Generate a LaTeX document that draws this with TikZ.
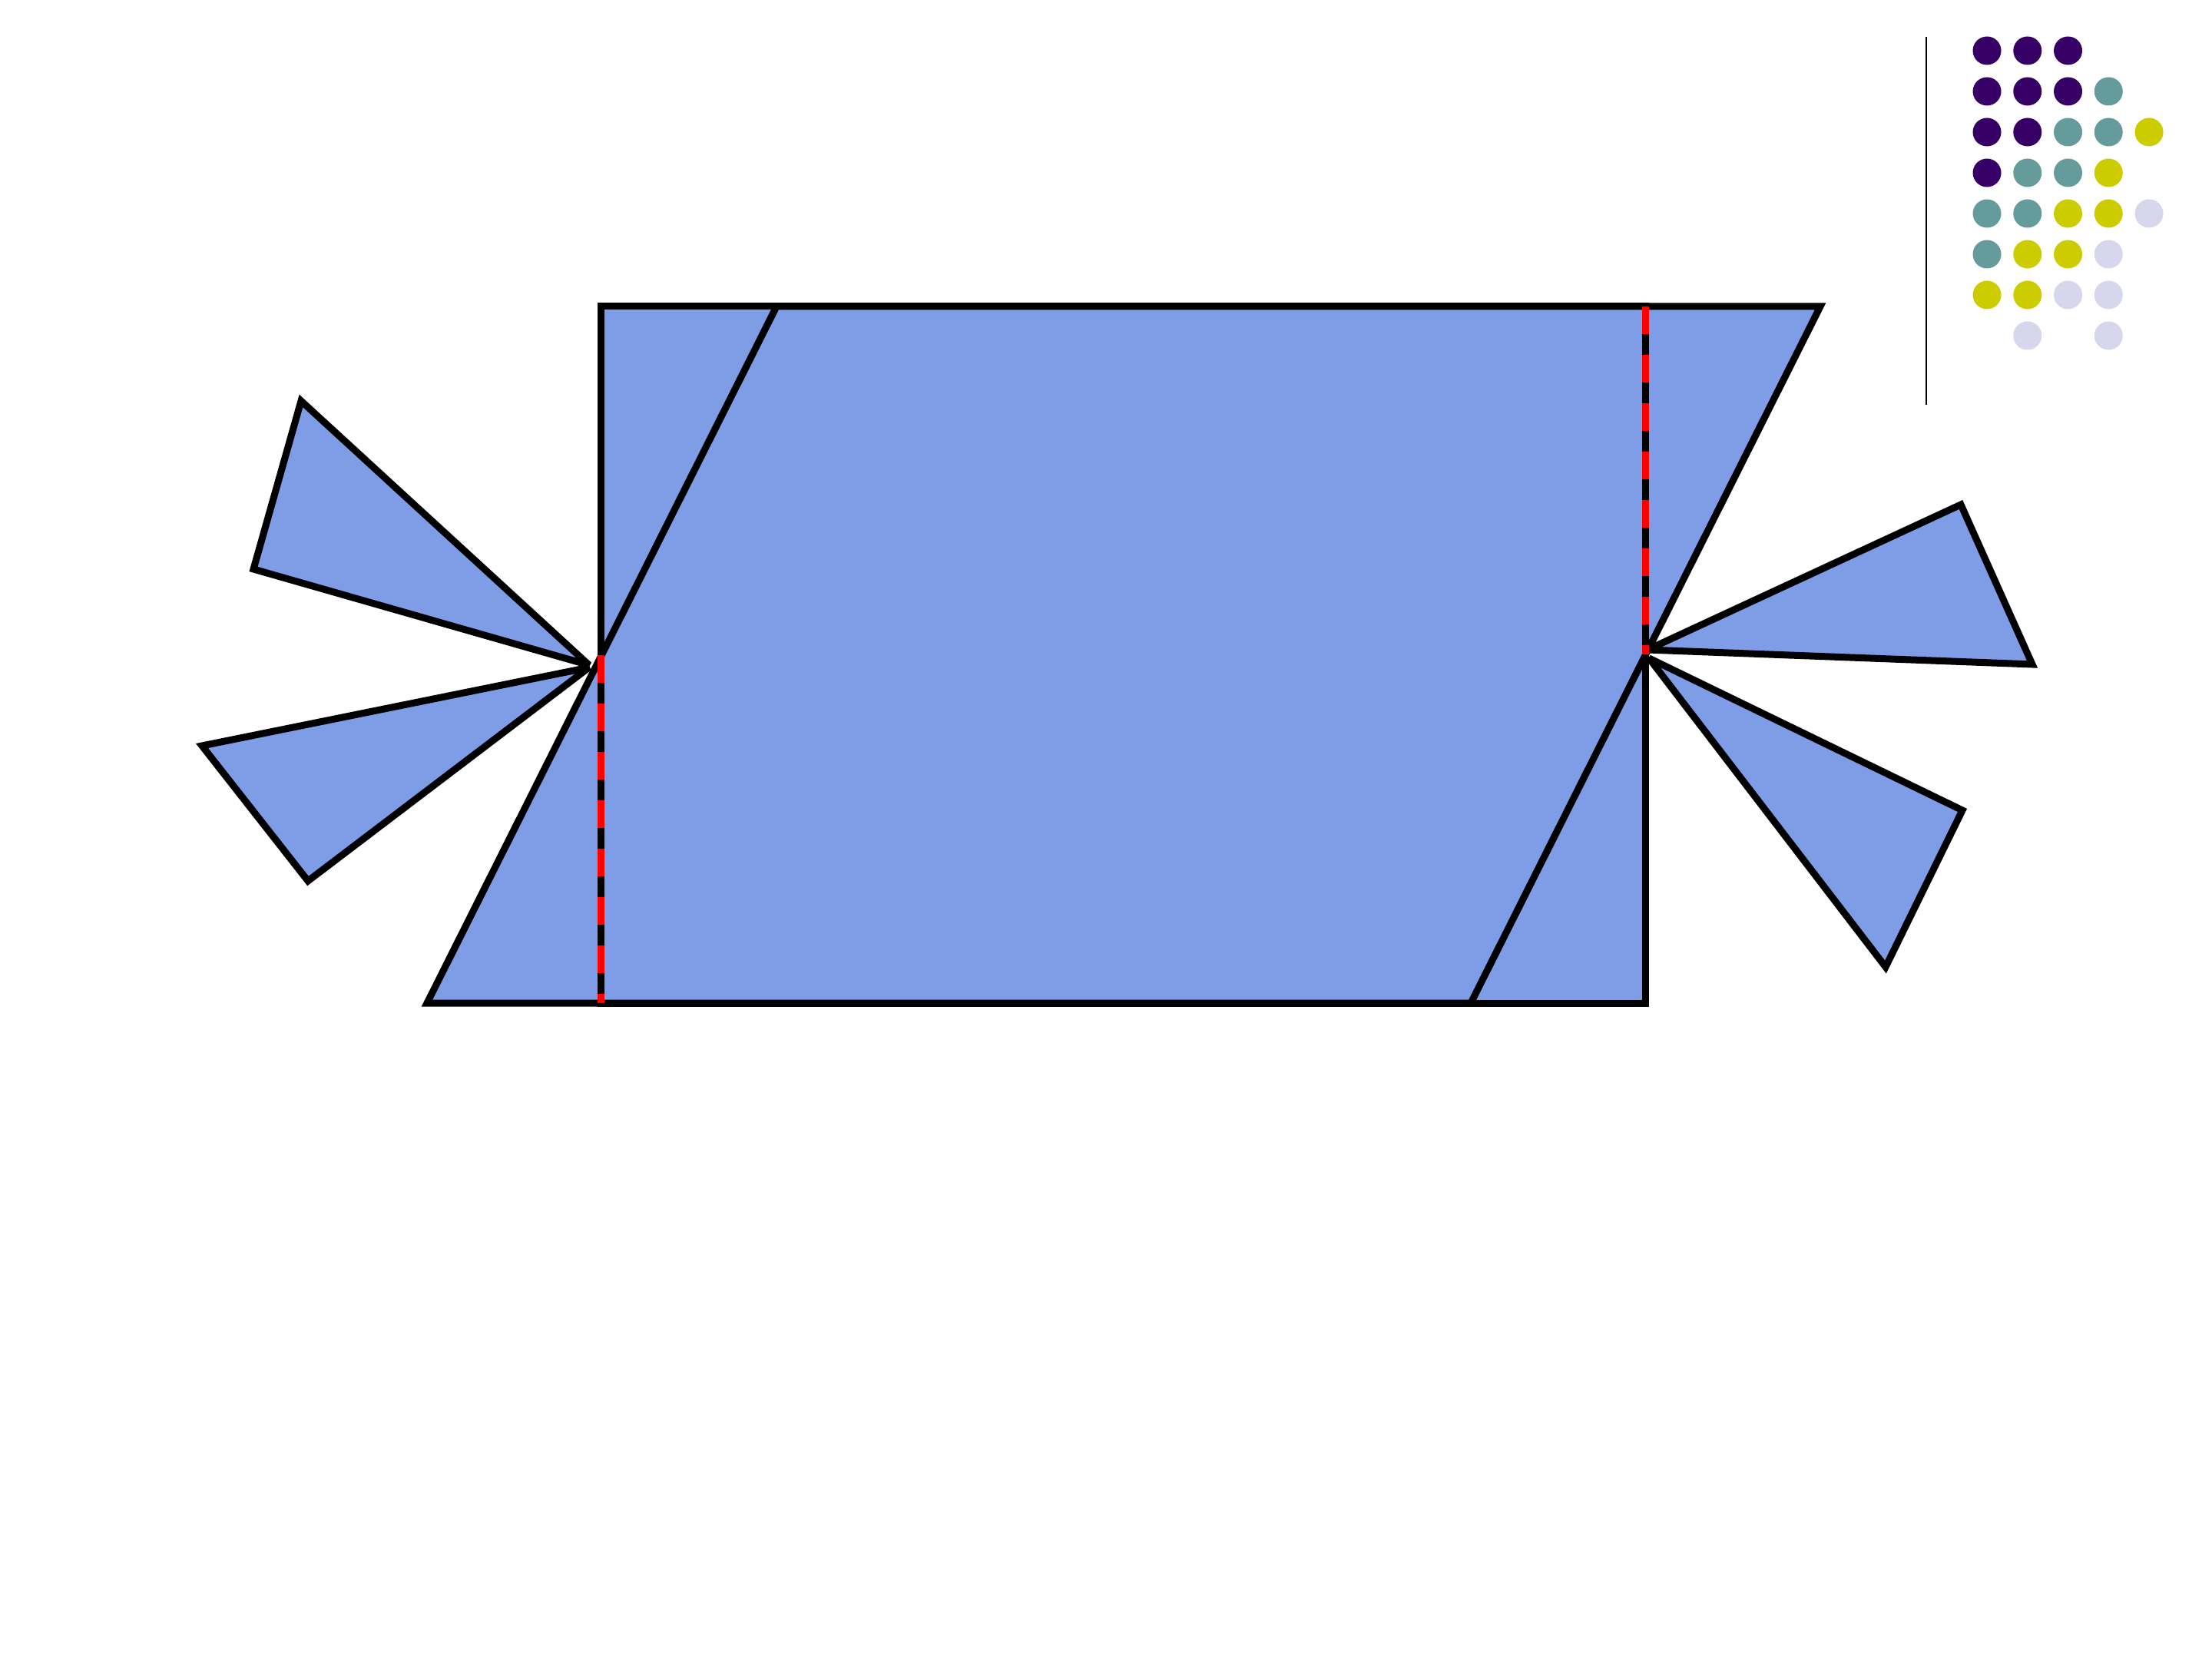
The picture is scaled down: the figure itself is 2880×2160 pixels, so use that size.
\documentclass[tikz,border=0pt]{standalone}
\definecolor{candy}{RGB}{127,156,230}
\definecolor{dpurple}{RGB}{54,0,102}
\definecolor{dteal}{RGB}{102,155,155}
\definecolor{dyellow}{RGB}{204,204,0}
\definecolor{dlav}{RGB}{214,214,236}
\begin{document}
\begin{tikzpicture}[x=0.25pt,y=-0.25pt,
  edge/.style={line width=2.25pt, line join=miter, miter limit=2, draw=black},
  piece/.style={edge, fill=candy},
  fold/.style={line width=2.25pt, red, dash pattern=on 9pt off 6.75pt},
  dotnode/.style={circle, inner sep=0pt, minimum size=9.25pt, draw=none},
  rule/.style={line width=0.7pt, draw=black}]
\useasboundingbox (0,0) rectangle (2880,2160);
% rectangle
\coordinate (RTL) at (782,399);
\coordinate (RTR) at (2142,399);
\coordinate (RBR) at (2142,1306);
\coordinate (RBL) at (782,1306);
% parallelogram
\coordinate (PTL) at (1011,399);
\coordinate (PTR) at (2370,399);
\coordinate (PBR) at (1915,1306);
\coordinate (PBL) at (556,1306);
% junctions
\coordinate (LJ) at (782,853);
\coordinate (RJ) at (2142,852);
% fan triangles
\coordinate (LA1) at (767,866);
\coordinate (L1a) at (392,522);
\coordinate (L1b) at (330,741);
\coordinate (LA2) at (767,869);
\coordinate (L2a) at (263,971);
\coordinate (L2b) at (401,1147);
\coordinate (RA1) at (2145,846);
\coordinate (R1a) at (2553,657);
\coordinate (R1b) at (2646,865);
\coordinate (RA2) at (2147,857);
\coordinate (R2a) at (2555,1055);
\coordinate (R2b) at (2455,1259);
% rule
\coordinate (V1) at (2508,48);
\coordinate (V2) at (2508,527);

\draw[piece] (RTL) -- (RTR) -- (RBR) -- (RBL) -- cycle;
\draw[piece] (PTL) -- (PTR) -- (PBR) -- (PBL) -- cycle;
\draw[piece] (LA1) -- (L1a) -- (L1b) -- cycle;
\draw[piece] (LA2) -- (L2a) -- (L2b) -- cycle;
\draw[piece] (RA1) -- (R1a) -- (R1b) -- cycle;
\draw[piece] (RA2) -- (R2a) -- (R2b) -- cycle;

\draw[edge] (LJ) -- (RBL);
\draw[fold] (LJ) -- (RBL);
\draw[edge] (RTR) -- (RJ);
\draw[fold] (RTR) -- (RJ);

\draw[rule] (V1) -- (V2);

\foreach \c/\r/\col in {
  1/1/dpurple, 2/1/dpurple, 3/1/dpurple,
  1/2/dpurple, 2/2/dpurple, 3/2/dpurple, 4/2/dteal,
  1/3/dpurple, 2/3/dpurple, 3/3/dteal, 4/3/dteal, 5/3/dyellow,
  1/4/dpurple, 2/4/dteal, 3/4/dteal, 4/4/dyellow,
  1/5/dteal, 2/5/dteal, 3/5/dyellow, 4/5/dyellow, 5/5/dlav,
  1/6/dteal, 2/6/dyellow, 3/6/dyellow, 4/6/dlav,
  1/7/dyellow, 2/7/dyellow, 3/7/dlav, 4/7/dlav,
  2/8/dlav, 4/8/dlav}
  \node[dotnode, fill=\col] (dot-\r-\c) at ({2587+(\c-1)*52.75},{66+(\r-1)*53}) {};
\end{tikzpicture}
\end{document}
